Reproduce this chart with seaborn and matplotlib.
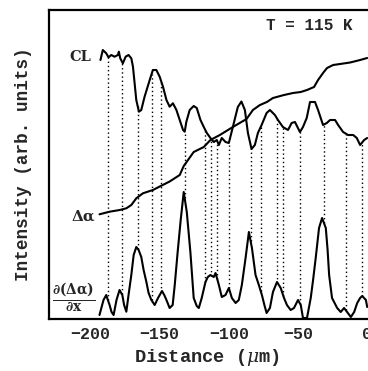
import numpy as np
import seaborn as sns
import matplotlib.pyplot as plt
from matplotlib.ticker import MultipleLocator

# ---- data (distance in um, intensity in arb. units) ----
cl_x = [-192.8, -191.1, -188.6, -187.0, -185.0, -182.6, -180.2, -179.5, -178.5, -176.6,
        -174.6, -172.5, -170.5, -169.3, -166.9, -165.0, -163.3, -160.9, -157.2, -154.9,
        -152.4, -150.0, -147.6, -145.1, -142.8, -140.4, -137.9, -135.5, -133.1, -131.9,
        -130.7, -128.3, -125.4, -123.2, -120.5, -118.1, -115.9, -113.3, -110.9, -108.7,
        -107.2, -105.1, -102.4, -100.0, -97.1, -93.5, -90.9, -88.4, -86.2, -83.6,
        -81.2, -79.0, -76.3, -72.7, -70.3, -66.7, -64.5, -60.9, -57.2, -54.6,
        -52.2, -48.6, -46.4, -43.7, -41.3, -37.7, -35.5, -31.9, -29.2, -26.8,
        -23.2, -21.0, -17.4, -13.8, -10.1, -7.5, -5.1, -2.2, 0.0]
cl_y = [259, 269, 265.7, 261.7, 264, 262.3, 264, 267.3, 260.7, 255.7,
        262.3, 264, 260.7, 252.3, 219, 207.3, 209, 222.3, 239, 249,
        249, 242.3, 232.3, 219, 212.3, 215.7, 209, 199, 189, 187.3,
        197.3, 209, 213, 211, 199, 192, 186, 181, 177, 179,
        174, 181, 177, 176, 192, 212, 217.5, 209, 186, 170,
        174, 186, 194, 206, 209, 204, 199, 192, 189, 196,
        197, 187, 192, 201, 217, 217, 209, 194, 196, 199,
        199, 194, 187, 184, 184, 181, 174, 179, 181]

da_x = [-193.5, -186.2, -178.9, -174.1, -170.5, -166.9, -162.1, -154.9, -147.8, -142.8,
        -135.5, -132.6, -125.4, -118.1, -113.3, -106.5, -97.1, -87.2, -82.6, -77.5,
        -72.5, -68.1, -60.1, -53.6, -48.0, -43.5, -38.4, -35.5, -31.9, -29.0,
        -24.6, -19.6, -12.3, -5.1, 0.0]
da_y = [104.7, 107.3, 109, 110.7, 114, 120.7, 125.7, 129, 134, 137.5,
        144, 153, 167, 172, 179, 184, 192, 200, 209, 214,
        217, 221, 224, 226, 227, 229, 232, 239, 246, 251,
        254, 255, 256.5, 259, 261]

dd_x = [-193.5, -190.6, -188.6, -187.7, -186.2, -184.8, -183.3, -181.2, -179.0, -177.0,
        -175.7, -174.1, -172.5, -170.5, -168.8, -166.9, -165.2, -163.3, -161.6, -159.6,
        -158.0, -156.0, -153.6, -151.2, -148.3, -146.7, -145.1, -142.8, -140.6, -139.1,
        -137.0, -134.8, -132.6, -130.4, -127.8, -125.4, -123.2, -121.7, -119.6, -116.9,
        -115.2, -113.3, -110.9, -109.6, -107.2, -105.1, -102.4, -100.0, -97.8, -95.1,
        -92.8, -90.6, -87.9, -85.5, -83.3, -80.7, -78.3, -76.1, -74.3, -72.7,
        -70.3, -68.1, -65.2, -62.5, -60.1, -58.0, -55.3, -52.9, -50.0, -48.0,
        -46.4, -43.5, -40.8, -39.1, -37.2, -34.8, -32.6, -29.9, -28.6, -27.5,
        -25.4, -21.7, -19.1, -16.7, -14.5, -11.8, -9.4, -7.2, -5.1, -3.6,
        -0.9, 0.0]
dd_y = [4, 19, 24, 20, 14, 7, 4, 19, 29, 24,
        14, 7.3, 24, 44, 64, 72, 69, 62, 49, 37,
        26, 19, 14, 21, 28, 24, 19, 11, 14, 34,
        67, 99, 127, 107, 67, 21, 13, 11, 21, 37,
        42, 44, 42, 46, 34, 22, 24, 31, 21, 16,
        19, 34, 61, 87, 71, 44, 34, 24, 14, 6,
        11, 27, 37, 31, 21, 14, 9, 11, 19, 14,
        1, 1, 21, 39, 61, 91, 101, 91, 69, 44,
        21, 11, 7, 11, 7, 2, 7, 16, 21, 23,
        19, 12]

# positions of the dotted guide lines
guide_x = [-187.5, -177.5, -166.0, -155.8, -148.8, -131.9, -116.9, -112.7, -108.5,
           -100.0, -84.3, -77.0, -65.4, -60.7, -48.6, -31.2, -15.4, -3.4]

xticks = [-200, -150, -100, -50, 0]

sns.set_style('white')
plt.rcParams['font.family'] = ['Liberation Mono', 'DejaVu Sans']
plt.rcParams['mathtext.fontset'] = 'dejavuserif'
plt.rcParams['xtick.direction'] = 'in'

fig = plt.figure(figsize=(3.68, 3.71), dpi=100)
ax = fig.add_axes([49 / 368, 52 / 371, 332 / 368, 309 / 371])

for xs, ys in [(cl_x, cl_y), (da_x, da_y), (dd_x, dd_y)]:
    sns.lineplot(x=xs, y=ys, ax=ax, color='black', lw=1.5, estimator=None, sort=False)

top = np.interp(guide_x, cl_x, cl_y)
bot = np.interp(guide_x, dd_x, dd_y)
ax.vlines(guide_x, bot, top, colors='black', linestyles=(0, (1, 2)), lw=1.0)

ax.set_xlim(-230, 10)
ax.set_ylim(0, 309)
ax.set_xticks(xticks)
ax.xaxis.set_minor_locator(MultipleLocator(10))
ax.set_yticks([])
ax.tick_params(axis='x', which='major', length=5, width=1.2, pad=6,
               labelsize=12)
ax.tick_params(axis='x', which='minor', length=3, width=1.0)
for lab in ax.get_xticklabels():
    lab.set_fontweight('bold')

for s in ax.spines.values():
    s.set_linewidth(1.6)
    s.set_color('black')

ax.set_xlabel(r'Distance ($\mu$m)', fontsize=13.5, fontweight='bold')
ax.xaxis.set_label_coords(0.476, -0.092)
ax.set_ylabel('Intensity (arb. units)', fontsize=12.7, fontweight='bold')
ax.yaxis.set_label_coords(-0.05, 0.5)

serif = {'family': 'DejaVu Serif', 'weight': 'bold'}
ax.text(-207.2, 262, 'CL', fontdict=serif, fontsize=10.5, ha='center', va='center')
ax.text(-205.4, 102, 'Δα', fontdict=serif, fontsize=11, ha='center', va='center')
ax.text(-212.0, 21, r'$\mathbf{\frac{\partial(\Delta\alpha)}{\partial x}}$',
        fontsize=14, ha='center', va='center')
ax.text(-42, 294, 'T = 115 K', fontsize=11.5, fontweight='bold', ha='center', va='center')

plt.savefig('out.png', dpi=100)
